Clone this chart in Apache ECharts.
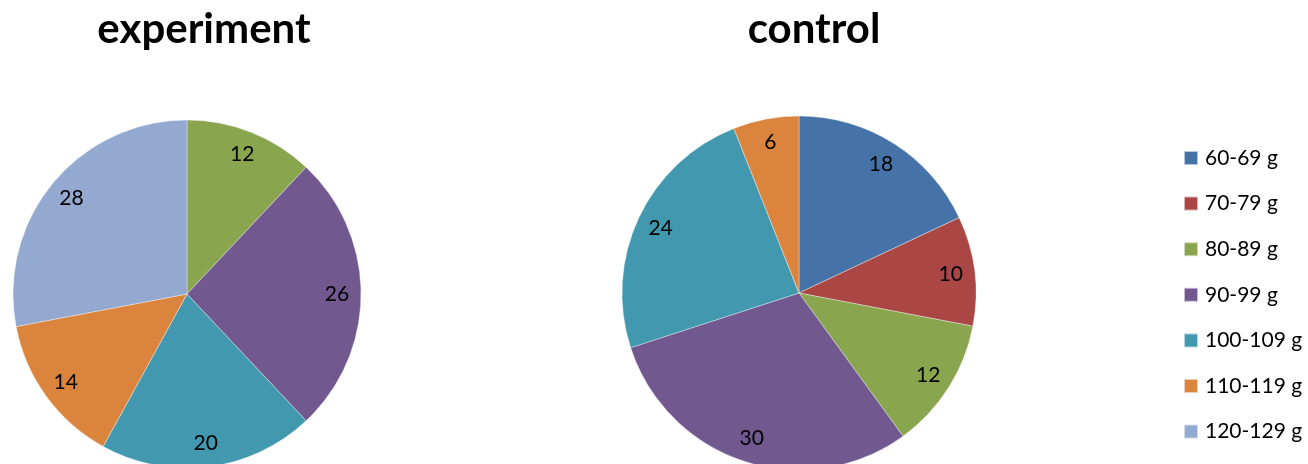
<!DOCTYPE html>
<html>
<head>
<meta charset="utf-8">
<script src="https://cdn.jsdelivr.net/npm/echarts@6/dist/echarts.min.js"></script>
<style>
html,body{margin:0;padding:0;background:#fff;}
#chart{width:1308px;height:464px;}
</style>
</head>
<body>
<div id="chart"></div>
<script>
var categories = ['60-69 g','70-79 g','80-89 g','90-99 g','100-109 g','110-119 g','120-129 g'];
var experimentValues = [0, 0, 12, 26, 20, 14, 28];
var controlValues = [18, 10, 12, 30, 24, 6, 0];
var titles = ['experiment', 'control'];
var colors = ['#4673A7','#AA4644','#89A54E','#71588F','#4298AF','#DB843D','#93A9D0'];

function buildData(values) {
  var out = [];
  values.forEach(function (v, i) {
    if (v > 0) out.push({ name: categories[i], value: v, itemStyle: { color: colors[i] } });
  });
  return out;
}

function pieSeries(values, center, r) {
  return [
    {
      type: 'pie', center: center, radius: [0, r], startAngle: 90, clockwise: true,
      data: buildData(values), label: { show: false }, labelLine: { show: false },
      itemStyle: { borderColor: 'rgba(255,255,255,0.6)', borderWidth: 0.6 },
      silent: true, animation: false
    },
    {
      type: 'pie', center: center, radius: [r - 54, r], startAngle: 90, clockwise: true,
      data: buildData(values).map(function (d) {
        return { name: d.name, value: d.value, itemStyle: { color: 'rgba(0,0,0,0)' } };
      }),
      label: { show: true, position: 'inside', formatter: '{c}', color: '#000',
               fontFamily: 'Lato', fontSize: 21 },
      labelLine: { show: false }, silent: true, animation: false,
      itemStyle: { borderWidth: 0 }
    }
  ];
}

var chart = echarts.init(document.getElementById('chart'));
chart.setOption({
  backgroundColor: '#fff',
  animation: false,
  color: colors,
  title: [
    { text: titles[0], left: 199, top: 3, textAlign: 'center',
      textStyle: { fontFamily: 'Lato', fontWeight: 'bold', fontSize: 42, color: '#000' } },
    { text: titles[1], left: 809, top: 3, textAlign: 'center',
      textStyle: { fontFamily: 'Lato', fontWeight: 'bold', fontSize: 42, color: '#000' } }
  ],
  legend: {
    data: categories, orient: 'vertical', left: 1178, top: 142,
    icon: 'rect', itemWidth: 14, itemHeight: 14, itemGap: 23.6,
    selectedMode: false,
    textStyle: { fontFamily: 'Lato', fontSize: 21, lineHeight: 22, color: '#000', padding: [0,0,0,2] }
  },
  series: pieSeries(experimentValues, [187, 294], 174).concat(pieSeries(controlValues, [799, 293], 177))
});
</script>
</body>
</html>
